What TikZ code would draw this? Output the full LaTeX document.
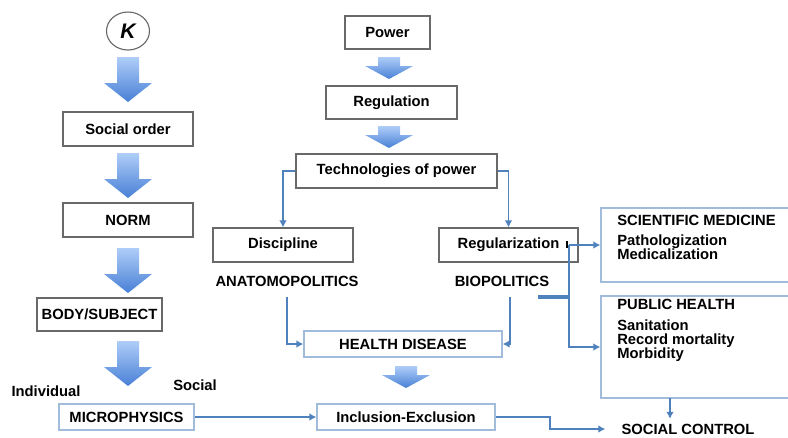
\documentclass[tikz,border=0pt]{standalone}
\usepackage{fontspec}
\setmainfont{Liberation Sans}
\usetikzlibrary{shapes.geometric,arrows.meta,positioning}

\definecolor{linkblue}{RGB}{79,129,189}
\definecolor{boxgray}{RGB}{105,105,105}
\definecolor{boxblue}{RGB}{160,188,218}
\definecolor{arrtop}{RGB}{175,205,248}
\definecolor{arrbot}{RGB}{72,128,214}
\newcommand\diafont{\fontsize{10.5}{12}\selectfont\bfseries}
\newcommand\listfont{\fontsize{10.5}{9.9}\selectfont\bfseries\lineskiplimit=-20pt}

\tikzset{
  arrowshade/.style={top color=arrtop, bottom color=arrbot, draw=none},
  bigdown/.pic={\path[arrowshade] (-11,0) -- (11,0) -- (11,26) -- (24,26) -- (0,45) -- (-24,26) -- (-11,26) -- cycle;},
  flatdown/.pic={\path[arrowshade] (-11,0) -- (11,0) -- (11,9) -- (24,9) -- (0,22) -- (-24,9) -- (-11,9) -- cycle;}
}

\begin{document}
\begin{tikzpicture}[x=0.025cm, y=-0.025cm,
    box/.style={draw=boxgray, line width=0.9pt, minimum height=0.85cm, font=\diafont},
    lightbox/.style={box, draw=boxblue, minimum height=0.65cm},
    tag/.style={font=\diafont},
    items/.style={anchor=north west, align=left, inner sep=0pt, font=\listfont},
    link/.style={draw=linkblue, line width=1.2pt, -{Latex[length=5pt,width=5.5pt]}}]
    \clip (0,0) rectangle (788,437);

    % left column
    \node[ellipse, draw=boxgray, line width=0.8pt, minimum width=1.075cm, minimum height=0.95cm, font=\fontsize{15}{15}\selectfont\bfseries\itshape] (k) at (128,31) {K};
    \pic at (128,57) {bigdown};
    \node[box, minimum width=3.25cm] (order) at (128,129) {Social order};
    \pic at (128,153) {bigdown};
    \node[box, minimum width=3.25cm] (norm) at (128,220) {NORM};
    \pic at (128,248) {bigdown};
    \node[box, minimum width=2.775cm, minimum height=0.825cm] (body) at (99.5,314.5) {BODY/SUBJECT};
    \pic at (128,341) {bigdown};
    \node[tag] (indiv) at (46,391) {Individual};
    \node[tag] (social) at (195,385) {Social};
    \node[lightbox, minimum width=3.375cm] (micro) at (126.5,417) {MICROPHYSICS};

    % middle column
    \node[box, minimum width=2.125cm, minimum height=0.825cm] (power) at (387.5,32.5) {Power};
    \pic at (389,57) {flatdown};
    \node[box, minimum width=3.275cm, minimum height=0.825cm] (regul) at (391.5,102.5) {Regulation};
    \pic at (389,126) {flatdown};
    \node[box, minimum width=5.025cm] (tech) at (396.5,171) {Technologies of power};
    \node[box, minimum width=3.5cm] (disc) at (283,245) {Discipline};
    \node[box, minimum width=3.475cm] (regz) at (508.5,245) {Regularization};
    \node[tag] (anat) at (287,281) {ANATOMOPOLITICS};
    \node[tag] (bio) at (502,281) {BIOPOLITICS};
    \node[lightbox, minimum width=4.95cm] (health) at (403,344) {HEALTH DISEASE};
    \pic at (406,366) {flatdown};
    \node[lightbox, minimum width=4.45cm] (incl) at (406,417) {Inclusion-Exclusion};

    % right column
    \node[box, draw=boxblue, minimum width=4.975cm, minimum height=1.85cm] (sci) at (700.5,245) {};
    \node[tag, anchor=west, inner sep=0pt] (scihead) at (617,220) {SCIENTIFIC MEDICINE};
    \node[items] (sciitems) at (617,235) {Pathologization\\Medicalization};
    \node[box, draw=boxblue, minimum width=4.975cm, minimum height=2.55cm] (pub) at (700.5,347) {};
    \node[tag, anchor=west, inner sep=0pt] (pubhead) at (617,304) {PUBLIC HEALTH};
    \node[items] (pubitems) at (617,320) {Sanitation\\Record mortality\\Morbidity};
    \node[tag, inner xsep=0.4cm] (ctrl) at (688,429) {SOCIAL CONTROL};

    \coordinate (anatline) at (287,297);
    \coordinate (bioline) at (510,297);
    \coordinate (biotap) at (538,297);
    \coordinate (tap) at (569,245);
    \coordinate (pubout) at (670,398);

    \draw[link] (tech.west) -| (disc.north);
    \draw[link] (tech.east) -| (regz.north);
    \draw[link] (anatline) |- (health.west);
    \draw[link] (bioline) |- (health.east);
    \draw[link] (micro) -- (incl);
    \draw[link] (incl.east) -- ++(54,0) |- (ctrl.west);
    \draw[link] (tap) -- (sci.west);
    \draw[link] (tap) |- (pub.west);
    \draw[draw=linkblue, line width=2.6pt] (biotap) -- (biotap -| tap);
    \draw[black, line width=0.8pt] (tap) ++(-2,-4) -- ++(0,7);
    \draw[link] (pubout) -- (pubout |- ctrl.north);
\end{tikzpicture}
\end{document}
